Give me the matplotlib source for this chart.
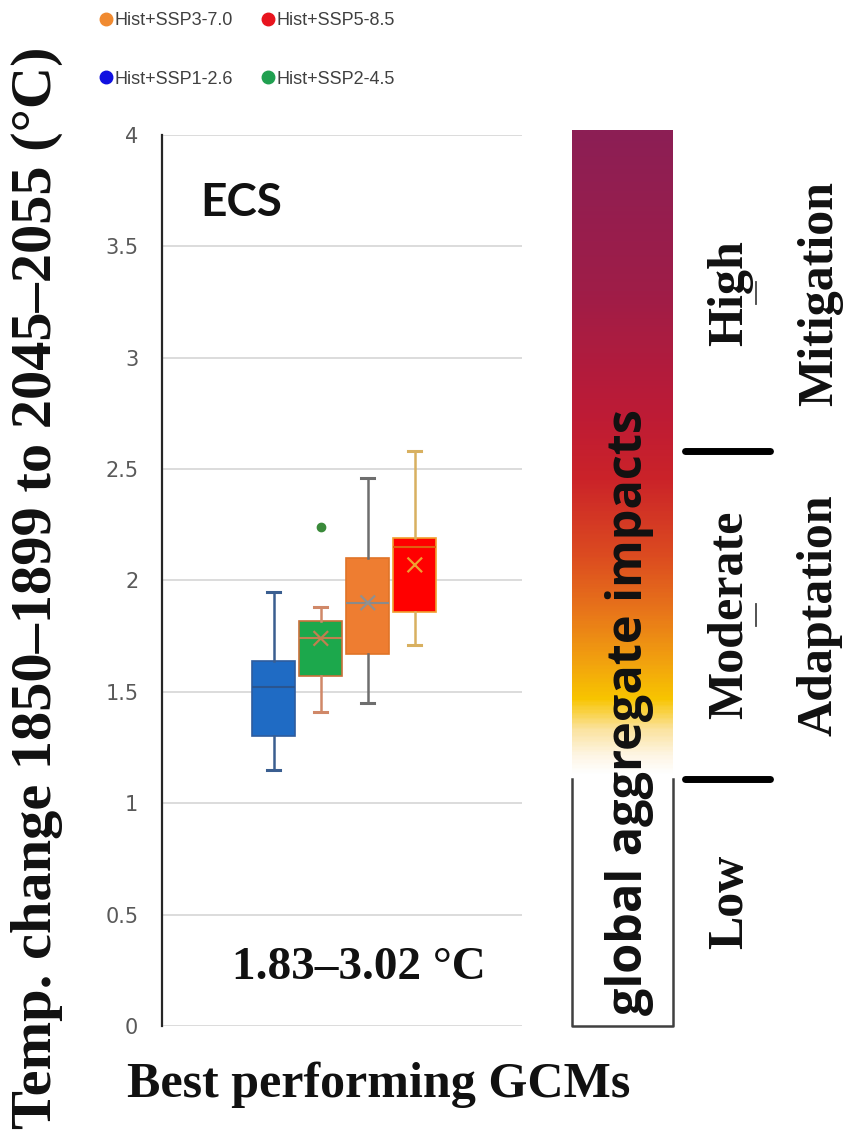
import numpy as np
import matplotlib.pyplot as plt
from matplotlib.lines import Line2D
from matplotlib.colors import LinearSegmentedColormap

# scenarios, in plotting order
scenarios = ['Hist+SSP1-2.6', 'Hist+SSP2-4.5', 'Hist+SSP3-7.0', 'Hist+SSP5-8.5']
whislo = [1.15, 1.41, 1.45, 1.71]
q1 = [1.30, 1.57, 1.67, 1.86]
medians = [1.52, 1.74, 1.90, 2.15]
q3 = [1.64, 1.82, 2.10, 2.19]
whishi = [1.95, 1.88, 2.46, 2.58]
means = [np.nan, 1.74, 1.90, 2.07]
fliers = [[], [2.24], [], []]

box_fill = ['#1F6BC4', '#1CA84C', '#EE7D31', '#FF0000']
box_edge = ['#2E5C9E', '#C8703A', '#E07428', '#F0A030']
whisker_col = ['#3A5E90', '#D08868', '#6E6E6E', '#D8B060']
median_col = ['#2A5590', '#C08050', '#8A8A8A', '#E06010']
mean_col = ['#2A5590', '#C08050', '#909090', '#F0A030']

legend_order = [2, 0, 3, 1]
legend_col = {0: '#1010E0', 1: '#20A050', 2: '#F08A30', 3: '#E8141E'}

yticks = [0, 0.5, 1, 1.5, 2, 2.5, 3, 3.5, 4]
ytick_labels = ['0', '0.5', '1', '1.5', '2', '2.5', '3', '3.5', '4']

# impact levels: boundaries between Low / Moderate / High
levels = ['Low', 'Moderate', 'High']
actions = ['', 'Adaptation', 'Mitigation']
bounds = [0, 1.11, 2.58, 4.0]

# colour ramp of the impact bar (value, colour)
ramp_vals = [1.12, 1.20, 1.32, 1.46, 1.62, 1.85, 2.10, 2.45, 2.75, 3.30, 4.02]
ramp_cols = ['#FFFFFF', '#FEF6E6', '#FBE3A0', '#F8C500', '#F2A30E', '#E8761A',
             '#DC4C20', '#CB2329', '#BD1B36', '#9F1D48', '#8C1F55']

fig = plt.figure(figsize=(8.48, 11.48), dpi=100)

ax = fig.add_axes([0.191, 0.1063, 0.4245, 0.7761])
positions = np.arange(1, len(scenarios) + 1)
stats = []
for i in range(len(scenarios)):
    stats.append(dict(med=medians[i], q1=q1[i], q3=q3[i], whislo=whislo[i],
                      whishi=whishi[i], fliers=fliers[i], label=scenarios[i]))
bp = ax.bxp(stats, positions=positions, widths=0.91, capwidths=0.28,
            patch_artist=True, showfliers=True)
for i in range(len(scenarios)):
    bp['boxes'][i].set(facecolor=box_fill[i], edgecolor=box_edge[i], linewidth=1.2)
    bp['medians'][i].set(color=median_col[i], linewidth=1.5)
    for k in (2 * i, 2 * i + 1):
        bp['whiskers'][k].set(color=whisker_col[i], linewidth=1.8)
        bp['caps'][k].set(color=whisker_col[i], linewidth=2.2)
    bp['fliers'][i].set(marker='o', markerfacecolor='#3A8A3A',
                        markeredgecolor='#3A8A3A', markersize=6)
ax.scatter(positions, means, marker='x', s=110, c=mean_col, linewidths=1.6, zorder=4)

ax.set_xlim(-1.38, 6.28)
ax.set_ylim(0, 4)
ax.set_yticks(yticks)
ax.set_yticklabels(ytick_labels, fontsize=15, color='#595959')
ax.tick_params(axis='y', length=0, pad=17)
ax.set_xticks([])
ax.yaxis.grid(True, color='#D9D9D9', linewidth=1.3)
ax.set_axisbelow(True)
for s in ['top', 'right', 'bottom']:
    ax.spines[s].set_visible(False)
ax.spines['left'].set_color('#262626')
ax.spines['left'].set_linewidth(1.6)

ax.text(0.105, 0.924, 'ECS', transform=ax.transAxes, fontsize=33,
        fontweight='bold', family='Lato', color='#111111', va='center', ha='left')
ax.text(0.547, 0.065, '1.83–3.02 °C', transform=ax.transAxes, fontsize=34,
        fontweight='bold', family='Liberation Serif', color='#111111',
        va='center', ha='center')

fig.text(0.044, 0.488, 'Temp. change 1850–1899 to 2045–2055 (°C)', rotation=90,
         fontsize=42, fontweight='bold', family='Liberation Serif',
         color='#111111', va='center', ha='center')
fig.text(0.446, 0.055, 'Best performing GCMs', fontsize=36, fontweight='bold',
         family='Liberation Serif', color='#111111', va='center', ha='center')

handles = [Line2D([], [], marker='o', ls='', color=legend_col[i], markersize=9)
           for i in legend_order]
labels = [scenarios[i] for i in legend_order]
fig.legend(handles, labels, ncol=2, loc='center', bbox_to_anchor=(0.2915, 0.9565),
           frameon=False, handlelength=0.7, handletextpad=0.1, columnspacing=1.6,
           labelspacing=2.3, prop={'family': 'Liberation Sans', 'size': 13},
           labelcolor='#404040')

# impact colour bar
cax = fig.add_axes([0.6745, 0.1063, 0.1191, 0.7761])
cax.set_xlim(0, 1)
cax.set_ylim(0, 4)
cax.axis('off')
lo, hi = ramp_vals[0], ramp_vals[-1]
cmap = LinearSegmentedColormap.from_list(
    'impact', [((v - lo) / (hi - lo), c) for v, c in zip(ramp_vals, ramp_cols)])
grad = np.linspace(0, 1, 400).reshape(-1, 1)
cax.imshow(grad, cmap=cmap, aspect='auto', origin='lower',
           extent=[0, 1, lo, hi], clip_on=False)
cax.plot([0, 0, 1, 1], [bounds[1], bounds[0], bounds[0], bounds[1]],
         color='#404040', lw=1.8, clip_on=False)
cax.text(0.574, 1.41, 'global aggregate impacts', rotation=90, fontsize=35,
         fontweight='bold', family='Open Sans', color='#111111',
         ha='center', va='center')

# level labels on the right
rax = fig.add_axes([0.8019, 0.1063, 0.1981, 0.7761])
rax.set_xlim(0, 1)
rax.set_ylim(0, 4)
rax.axis('off')
for b in bounds[1:3]:
    rax.plot([0.03, 0.536], [b, b], color='black', lw=5, solid_capstyle='round')
for i in range(len(levels)):
    mid = (bounds[i] + bounds[i + 1]) / 2
    rax.text(0.298, mid, levels[i], rotation=90, fontsize=36, fontweight='bold',
             family='Liberation Serif', color='#111111', ha='center', va='center')
    if actions[i]:
        # short separator dash between the two words
        rax.plot([0.455, 0.455], [mid - 0.05, mid + 0.05], color='#444444', lw=1.3)
        rax.text(0.833, mid, actions[i], rotation=90, fontsize=36, fontweight='bold',
                 family='Liberation Serif', color='#111111', ha='center', va='center')

fig.savefig('out.png', dpi=100, facecolor='white')
